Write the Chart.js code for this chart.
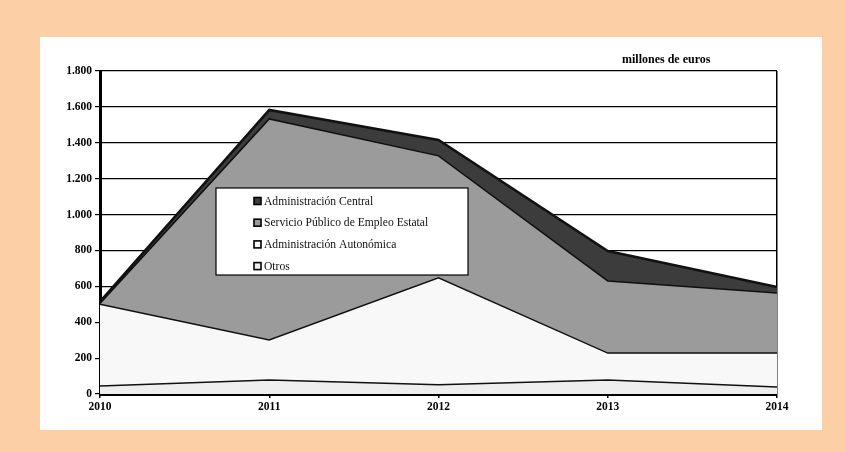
<!DOCTYPE html>
<html>
<head>
<meta charset="utf-8">
<script src="https://cdn.jsdelivr.net/npm/chart.js@4"></script>
<style>
  html, body { margin: 0; padding: 0; }
  body { width: 845px; height: 452px; background: rgb(253, 207, 167); position: relative; overflow: hidden; }
  #panel { position: absolute; left: 40px; top: 37px; width: 782px; height: 393px; background: #fff; }
  canvas { display: block; }
</style>
</head>
<body>
<div id="panel"><canvas id="grafico" width="782" height="393"></canvas></div>
<script>
// años y series (millones de euros), apiladas de abajo arriba
var years = ["2010", "2011", "2012", "2013", "2014"]
var otros = [45, 78, 52, 78, 39]
var autonomica = [455, 223, 595, 150, 189]
var sepe = [5, 1232, 680, 402, 335]
var central = [10, 50, 89, 167, 33]

var seriesNames = ["Administración Central", "Servicio Público de Empleo Estatal", "Administración Autonómica", "Otros"]
var seriesColors = ["rgb(60,60,60)", "rgb(155,155,155)", "rgb(248,248,248)", "rgb(238,238,238)"]

var serif = "'Liberation Serif', 'DejaVu Serif', serif"

// leyenda en recuadro dentro del área del gráfico + rótulo de unidades
const boxLegend = {
  id: 'boxLegend',
  afterDraw: (chart) => {
    const {ctx, chartArea} = chart
    ctx.save()
    // unidades
    ctx.font = "bold 12px " + serif
    ctx.fillStyle = "#000"
    ctx.textAlign = "left"
    ctx.textBaseline = "middle"
    ctx.fillText("millones de euros", 582, 23)

    const x = chartArea.left + 116, y = chartArea.top + 117
    const w = 252, h = 87
    ctx.fillStyle = "#fff"
    ctx.fillRect(x, y, w, h)
    ctx.strokeStyle = "#000"
    ctx.lineWidth = 1.2
    ctx.strokeRect(x, y, w, h)

    ctx.font = "11.6px " + serif
    for (var i = 0; i < seriesNames.length; i++) {
      var ry = y + 13 + i * 21.7
      ctx.fillStyle = seriesColors[i]
      ctx.fillRect(x + 38, ry - 3.5, 7, 7)
      ctx.lineWidth = 1.6
      ctx.strokeStyle = "#000"
      ctx.strokeRect(x + 38, ry - 3.5, 7, 7)
      ctx.fillStyle = "#111"
      ctx.fillText(seriesNames[i], x + 48, ry + 0.5)
    }
    ctx.restore()
  }
}

function ds(label, data, color, fill, width) {
  return {
    label: label,
    data: data,
    backgroundColor: color,
    borderColor: "#111",
    borderWidth: width,
    fill: fill,
    pointRadius: 0,
    tension: 0
  }
}

var chart = new Chart(document.getElementById("grafico"), {
  type: 'line',
  data: {
    labels: years,
    datasets: [
      ds("Otros", otros, seriesColors[3], 'origin', 1.5),
      ds("Administración Autonómica", autonomica, seriesColors[2], '-1', 1.5),
      ds("Servicio Público de Empleo Estatal", sepe, seriesColors[1], '-1', 1.5),
      ds("Administración Central", central, seriesColors[0], '-1', 2.5)
    ]
  },
  options: {
    responsive: false,
    animation: false,
    layout: { padding: { top: 34, right: 45, left: 0, bottom: 0 } },
    plugins: {
      legend: { display: false },
      tooltip: { enabled: false },
      filler: { drawTime: 'beforeDatasetsDraw' }
    },
    scales: {
      x: {
        offset: false,
        afterFit: (s) => { s.height = 36 },
        grid: {
          color: (c) => c.index === years.length - 1 ? "#000" : "rgba(0,0,0,0)",
          lineWidth: 1.5,
          drawTicks: true,
          tickLength: 4,
          tickColor: "#000"
        },
        border: { color: "#000", width: 3 },
        ticks: { color: "#000", font: { family: serif, size: 11.5, weight: 'bold' }, maxRotation: 0, padding: 2 }
      },
      y: {
        stacked: true,
        min: 0,
        max: 1800,
        afterFit: (s) => { s.width = 60 },
        grid: { color: "#000", lineWidth: 1.2, tickLength: 5, tickColor: "#000" },
        border: { color: "#000", width: 3 },
        ticks: {
          stepSize: 200,
          color: "#000",
          padding: 3,
          font: { family: serif, size: 11.5, weight: 'bold' },
          callback: (v) => v.toLocaleString('de-DE')
        }
      }
    }
  },
  plugins: [boxLegend]
})
</script>
</body>
</html>
